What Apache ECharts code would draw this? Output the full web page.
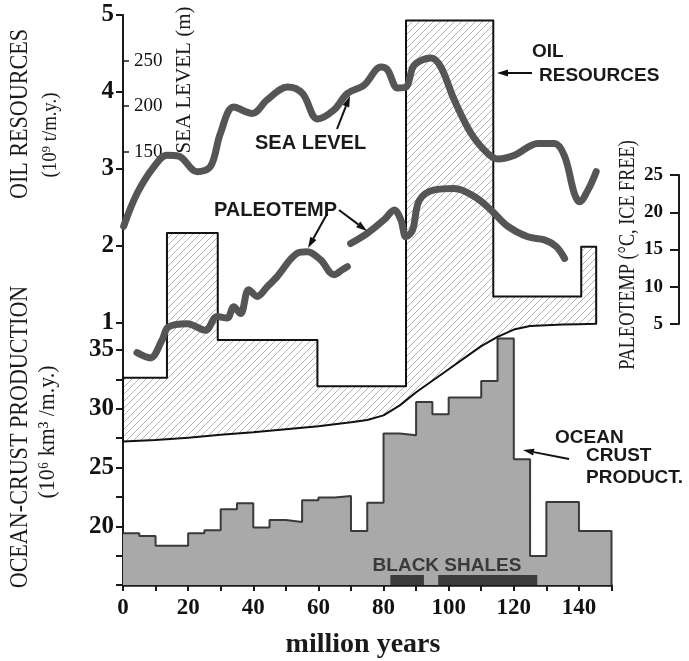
<!DOCTYPE html>
<html>
<head>
<meta charset="utf-8">
<script src="https://cdn.jsdelivr.net/npm/echarts@6/dist/echarts.min.js"></script>
<style>
html, body { margin: 0; padding: 0; background: #fff; }
#chart { width: 689px; height: 661px; }
</style>
</head>
<body>
<div id="chart"></div>
<script>
// ---- data (million years before present) ----
// oil resources: upper step edges and values (10^9 t/m.y.)
var oilStepX = [0, 13.5, 29.1, 59.7, 86.9, 113.7, 140.7, 145.3];
var oilStepVal = [0.29, 2.17, 0.78, 0.18, 4.93, 1.345, 1.99];
// lower boundary of the hatched oil band
var oilBaseX = [0, 10, 20, 30, 40, 50, 60, 70, 75, 80, 85, 90, 95, 100, 105, 110, 115, 120, 125, 130, 135, 140, 145.3];
var oilBaseVal = [-0.54, -0.52, -0.49, -0.45, -0.42, -0.38, -0.34, -0.29, -0.26, -0.2, -0.07, 0.1, 0.25, 0.4, 0.55, 0.7, 0.82, 0.915, 0.96, 0.972, 0.98, 0.985, 0.99];

// ocean crust production, 5 m.y. bins (10^6 km3/m.y.)
var crustX = [0, 5, 10, 15, 20, 25, 30, 35, 40, 45, 50, 55, 60, 65, 70, 75, 80, 85, 90, 95, 100, 105, 110, 115, 120, 125, 130, 135, 140, 145];
var crustVal = [19.4, 19.17, 18.33, 18.33, 19.4, 19.66, 21.45, 21.96, 19.89, 20.54, 20.37, 22.21, 22.44, 22.58, 19.6, 22.0, 27.9, 27.74, 30.58, 29.53, 30.95, 30.95, 32.36, 35.97, 25.7, 17.47, 22.07, 22.07, 19.6, 19.6];

// black shale intervals
var shaleStart = [82.1, 96.8];
var shaleEnd = [92.4, 127.2];

// sea level (m)
var seaX = [0.2, 4.3, 9.4, 13.5, 17.1, 22.8, 26.9, 29.9, 34, 39.7, 44.3, 50.5, 55.1, 59.7, 64.8, 68.9, 74, 79.2, 81.2, 84.3, 86.9, 89.4, 94.6, 97.6, 101.7, 106.9, 112, 115.1, 120.2, 127.4, 132.5, 135.6, 138.6, 140.2, 142.8, 145.3];
var seaVal = [68, 104, 133, 146, 145, 128, 134, 170, 199, 192, 207, 221, 214, 186, 196, 214, 223, 243, 240, 220, 221, 245, 253, 243, 207, 170, 148, 142, 146, 159, 159, 145, 104, 95, 108, 128];

// paleotemperature (deg C, ice free), two segments
var paleoAX = [4.3, 8.4, 12.0, 13.9, 19.7, 25.3, 28.9, 32.0, 34.0, 36.1, 38.6, 41.2, 44.3, 47.4, 53.5, 56.6, 60.7, 64.8, 67.4, 68.9];
var paleoAVal = [1.15, 0.44, 2.85, 4.6, 5.05, 4.16, 6.0, 5.8, 7.3, 6.4, 9.6, 8.7, 10.0, 11.4, 14.5, 14.7, 13.6, 11.6, 12.3, 12.7];
var paleoBX = [69.9, 75.1, 80.2, 83.3, 85.3, 86.9, 88.9, 91.0, 95.6, 101.7, 107.9, 113.0, 118.2, 124.3, 129.4, 133.0, 135.6];
var paleoBVal = [15.8, 17.2, 19.0, 20.3, 19.0, 16.7, 17.6, 21.6, 23.0, 23.2, 22.1, 20.3, 18.1, 16.7, 16.3, 15.4, 13.8];

// tick values
var oilTicks = [1, 2, 3, 4, 5];
var crustTicks = [15, 17.5, 20, 22.5, 25, 27.5, 30, 32.5, 35];
var crustLabels = [20, 25, 30, 35];
var seaTicks = [150, 200, 250];

function pairs(xs, ys) {
  var out = [];
  for (var i = 0; i < xs.length; i++) out.push([xs[i], ys[i]]);
  return out;
}

// hatch pattern for the oil band
var hatch = document.createElement('canvas');
hatch.width = 7; hatch.height = 7;
var hc = hatch.getContext('2d');
hc.strokeStyle = '#a0a0a0';
hc.lineWidth = 0.8;
hc.beginPath();
hc.moveTo(-1, 8); hc.lineTo(8, -1);
hc.moveTo(-1, 1); hc.lineTo(1, -1);
hc.moveTo(6, 8); hc.lineTo(8, 6);
hc.stroke();

var crustData = pairs(crustX, crustVal);
crustData.push([150, crustVal[crustVal.length - 1]]);
crustData.push([150, 15]);

var serif = '"Liberation Serif", "DejaVu Serif", serif';
var sans = '"Liberation Sans", Arial, sans-serif';

function arrow(x1, y1, x2, y2) {
  var a = Math.atan2(y2 - y1, x2 - x1), L = 11, W = 7;
  var bx = x2 - L * Math.cos(a), by = y2 - L * Math.sin(a);
  return [
    { type: 'line', shape: { x1: x1, y1: y1, x2: bx, y2: by }, style: { stroke: '#111', lineWidth: 2 }, z: 20 },
    { type: 'polygon', shape: { points: [[x2, y2], [bx + W / 2 * Math.sin(a), by - W / 2 * Math.cos(a)], [bx - W / 2 * Math.sin(a), by + W / 2 * Math.cos(a)]] }, style: { fill: '#111' }, z: 20 }
  ];
}

function vtext(txt, x, y, size, sx) {
  return { type: 'text', x: x, y: y, rotation: Math.PI / 2, scaleX: sx || 1, z: 20,
    style: { text: txt, font: size + 'px ' + serif, fill: '#1a1a1a', textAlign: 'center', textVerticalAlign: 'middle' } };
}
function label(txt, x, y, size) {
  return { type: 'text', x: x, y: y, z: 20,
    style: { text: txt, font: 'bold ' + size + 'px ' + sans, fill: '#1a1a1a', textAlign: 'left', textVerticalAlign: 'middle' } };
}

var myChart = echarts.init(document.getElementById('chart'));

var graphics = [
  vtext('OIL RESOURCES', 20, 114, 26, 0.85),
  vtext('(10⁹ t/m.y.)', 50, 135, 22, 0.85),
  vtext('OCEAN-CRUST PRODUCTION', 20, 437, 26, 0.85),
  vtext('(10⁶ km³ /m.y.)', 48, 432, 23, 0.95),
  vtext('SEA LEVEL (m)', 184, 80, 21, 1),
  vtext('PALEOTEMP (°C, ICE FREE)', 628, 255, 24, 0.76),
  { type: 'text', x: 363, y: 645, z: 20, style: { text: 'million years', font: 'bold 28px ' + serif, fill: '#1a1a1a', textAlign: 'center', textVerticalAlign: 'middle' } },
  label('OIL', 532, 52, 19),
  label('RESOURCES', 539, 76, 19),
  label('SEA LEVEL', 255, 143, 20),
  label('PALEOTEMP', 214, 210, 20),
  label('OCEAN', 555, 438, 19),
  label('CRUST', 586, 456, 19),
  label('PRODUCT.', 586, 478, 19),
  { type: 'text', x: 447, y: 566, z: 20, style: { text: 'BLACK SHALES', font: 'bold 19px ' + sans, fill: '#3a3a3a', textAlign: 'center', textVerticalAlign: 'middle' } }
].concat(arrow(532, 73, 497, 73))
 .concat(arrow(337, 129, 350, 96))
 .concat(arrow(327, 214, 308, 248))
 .concat(arrow(339, 210, 367, 231))
 .concat(arrow(569, 459, 523, 450));

var option = {
  animation: false,
  backgroundColor: '#fff',
  grid: [
    { left: 123, right: 77.5, top: 15, bottom: 76 },
    { left: 123, right: 77.5, top: 175, height: 149 }
  ],
  xAxis: [
    {
      type: 'value', gridIndex: 0, min: 0, max: 150, interval: 10,
      axisLine: { onZero: false, lineStyle: { color: '#1a1a1a', width: 2.5 } },
      axisTick: { length: 6, lineStyle: { color: '#1a1a1a', width: 2 } },
      axisLabel: {
        margin: 12, color: '#111', fontFamily: serif, fontWeight: 'bold', fontSize: 23,
        formatter: function (v) { return (v % 20 === 0 && v < 150) ? String(v) : ''; }
      },
      splitLine: { show: false }
    },
    { type: 'value', gridIndex: 1, min: 0, max: 150, show: false }
  ],
  yAxis: [
    { // oil resources
      type: 'value', gridIndex: 0, position: 'left', min: 5 - 570 / 77, max: 5,
      axisLine: { show: true, onZero: false, lineStyle: { color: '#1a1a1a', width: 2 } },
      axisTick: { show: true, length: 7, customValues: oilTicks, lineStyle: { color: '#1a1a1a', width: 2 } },
      axisLabel: { customValues: oilTicks, margin: 9, color: '#111', fontFamily: serif, fontWeight: 'bold', fontSize: 25 },
      splitLine: { show: false }
    },
    { // ocean crust production
      type: 'value', gridIndex: 0, position: 'left', min: 15, max: 15 + 570 / 11.75,
      axisLine: { show: false, onZero: false },
      axisTick: { show: true, length: 7, customValues: crustTicks, lineStyle: { color: '#1a1a1a', width: 2 } },
      axisLabel: { customValues: crustLabels, margin: 9, color: '#111', fontFamily: serif, fontWeight: 'bold', fontSize: 25 },
      splitLine: { show: false }
    },
    { // sea level
      type: 'value', gridIndex: 0, position: 'left', min: 300.2 - 570 / 0.91, max: 300.2,
      axisLine: { show: false, onZero: false },
      axisTick: { show: true, inside: true, length: 6, customValues: seaTicks, lineStyle: { color: '#1a1a1a', width: 1.5 } },
      axisLabel: { inside: true, customValues: seaTicks, margin: 11, color: '#111', fontFamily: serif, fontSize: 19 },
      splitLine: { show: false }
    },
    { // paleotemp scale used by the curves
      type: 'value', gridIndex: 0, min: 5 - 261 / 7.45, max: 5 - 261 / 7.45 + 570 / 7.45, show: false
    },
    { // paleotemp bracket axis
      type: 'value', gridIndex: 1, position: 'right', offset: 67.5, min: 5, max: 25, interval: 5,
      axisLine: { show: true, onZero: false, lineStyle: { color: '#1a1a1a', width: 2 } },
      axisTick: { show: true, inside: true, length: 9, lineStyle: { color: '#1a1a1a', width: 2 } },
      axisLabel: { inside: true, margin: 16, color: '#111', fontFamily: serif, fontWeight: 'bold', fontSize: 19 },
      splitLine: { show: false }
    }
  ],
  graphic: graphics,
  series: [
    {
      name: 'oil', type: 'custom', xAxisIndex: 0, yAxisIndex: 0, z: 1,
      data: [[0, 0]],
      renderItem: function (params, api) {
        var pts = [api.coord([oilStepX[0], oilBaseVal[0]])];
        for (var i = 0; i < oilStepVal.length; i++) {
          pts.push(api.coord([oilStepX[i], oilStepVal[i]]));
          pts.push(api.coord([oilStepX[i + 1], oilStepVal[i]]));
        }
        for (var j = oilBaseX.length - 1; j >= 0; j--) {
          pts.push(api.coord([oilBaseX[j], oilBaseVal[j]]));
        }
        return {
          type: 'polygon', shape: { points: pts },
          style: { fill: { image: hatch, repeat: 'repeat' }, stroke: '#111', lineWidth: 2, lineJoin: 'round' }
        };
      }
    },
    {
      name: 'ocean crust', type: 'line', xAxisIndex: 0, yAxisIndex: 1, z: 2,
      step: 'end', symbol: 'none', data: crustData,
      lineStyle: { color: '#3a3a3a', width: 2 },
      areaStyle: { color: '#a9a9a9', opacity: 1, origin: 'start' }
    },
    {
      name: 'black shales', type: 'custom', xAxisIndex: 0, yAxisIndex: 1, z: 3,
      data: pairs(shaleStart, shaleEnd),
      renderItem: function (params, api) {
        var p1 = api.coord([api.value(0), 15.85]);
        var p2 = api.coord([api.value(1), 15]);
        return { type: 'rect', shape: { x: p1[0], y: p1[1], width: p2[0] - p1[0], height: p2[1] - p1[1] }, style: { fill: '#3b3b3b' } };
      }
    },
    {
      name: 'sea level', type: 'line', xAxisIndex: 0, yAxisIndex: 2, z: 5,
      smooth: 0.35, symbol: 'none', data: pairs(seaX, seaVal),
      lineStyle: { color: '#555', width: 7, cap: 'round', join: 'round' }
    },
    {
      name: 'paleotemp A', type: 'line', xAxisIndex: 0, yAxisIndex: 3, z: 5,
      smooth: 0.35, symbol: 'none', data: pairs(paleoAX, paleoAVal),
      lineStyle: { color: '#555', width: 7, cap: 'round', join: 'round' }
    },
    {
      name: 'paleotemp B', type: 'line', xAxisIndex: 0, yAxisIndex: 3, z: 5,
      smooth: 0.35, symbol: 'none', data: pairs(paleoBX, paleoBVal),
      lineStyle: { color: '#555', width: 7, cap: 'round', join: 'round' }
    }
  ]
};

myChart.setOption(option);
</script>
</body>
</html>
